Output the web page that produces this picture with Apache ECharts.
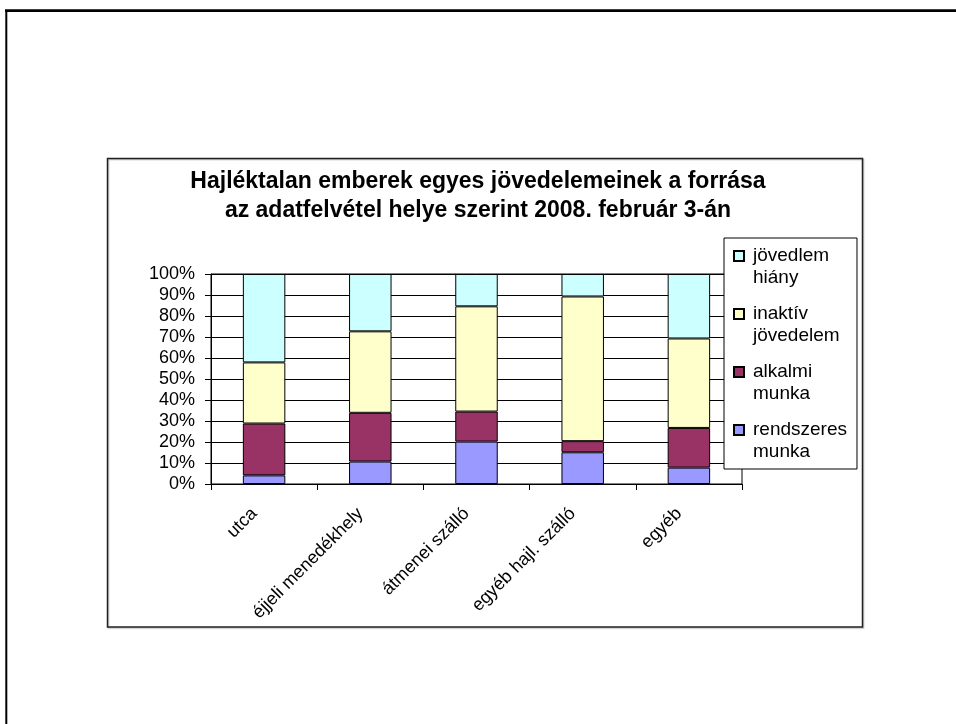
<!DOCTYPE html>
<html>
<head>
<meta charset="utf-8">
<script src="https://cdn.jsdelivr.net/npm/echarts@6/dist/echarts.min.js"></script>
<style>
html,body{margin:0;padding:0;background:#fff;}
#chart{width:956px;height:724px;}
</style>
</head>
<body>
<div id="chart"></div>
<script>
const categories = ['utca', 'éjjeli menedékhely', 'átmenei szálló', 'egyéb hajl. szálló', 'egyéb'];
const seriesNames = ['rendszeres munka', 'alkalmi munka', 'inaktív jövedelem', 'jövedlem hiány'];
const legendLabels = ['rendszeres\nmunka', 'alkalmi\nmunka', 'inaktív\njövedelem', 'jövedlem\nhiány'];
const rendszeres = [4.1, 10.7, 20.2, 15.1, 7.8];
const alkalmi = [24.7, 23.2, 14.3, 5.3, 18.9];
const inaktiv = [29.1, 38.8, 50.1, 68.9, 42.6];
const hiany = [42.1, 27.3, 15.4, 10.7, 30.7];
const yTicks = [0, 10, 20, 30, 40, 50, 60, 70, 80, 90, 100];

const colors = ['#9999FF', '#993366', '#FFFFCC', '#CCFFFF'];
const values = [rendszeres, alkalmi, inaktiv, hiany];
const FONT = '"Liberation Sans", Arial, sans-serif';

const chart = echarts.init(document.getElementById('chart'), null, {renderer: 'canvas'});
const option = {
  animation: false,
  backgroundColor: '#fff',
  textStyle: {fontFamily: FONT},
  title: {
    text: 'Hajléktalan emberek egyes jövedelemeinek a forrása\naz adatfelvétel helye szerint 2008. február 3-án',
    left: 'center',
    top: 162,
    padding: [5, 5, 5, 17],
    textStyle: {fontFamily: FONT, fontSize: 23, fontWeight: 'bold', color: '#000', lineHeight: 29}
  },
  legend: {
    orient: 'vertical',
    left: 724,
    top: 238,
    padding: [6, 10, 5, 9],
    itemGap: 12,
    itemWidth: 14,
    itemHeight: 44,
    icon: 'path://M0,6H10V16H0Z M0,0 M14,44',
    backgroundColor: '#fff',
    borderColor: '#000',
    borderWidth: 1,
    data: seriesNames.slice().reverse(),
    formatter: function (name) { return legendLabels[seriesNames.indexOf(name)]; },
    textStyle: {fontFamily: FONT, fontSize: 19, lineHeight: 22, color: '#000'}
  },
  grid: {
    left: 211, top: 274, right: 214, bottom: 240,
    show: true, borderColor: '#000', borderWidth: 1, backgroundColor: 'transparent'
  },
  xAxis: {
    type: 'category',
    data: categories,
    boundaryGap: true,
    axisLine: {lineStyle: {color: '#000', width: 1}},
    axisTick: {show: true, length: 6, interval: 0, lineStyle: {color: '#000'}},
    axisLabel: {rotate: 45, interval: 0, fontSize: 18, color: '#000', fontFamily: FONT, margin: 17, padding: [0, 14, 0, 0]}
  },
  yAxis: {
    type: 'value',
    min: 0, max: 100, interval: 10,
    axisLine: {show: true, lineStyle: {color: '#000', width: 1}},
    axisTick: {show: true, length: 6, lineStyle: {color: '#000'}},
    splitLine: {show: true, lineStyle: {color: '#000', width: 1}},
    axisLabel: {fontSize: 18, color: '#000', fontFamily: FONT, margin: 16,
      formatter: function (v) { return yTicks.indexOf(v) >= 0 ? v + '%' : ''; }}
  },
  series: seriesNames.map(function (n, i) {
    return {
      name: n,
      type: 'bar',
      stack: 'total',
      barWidth: '40%',
      data: values[i],
      itemStyle: {color: colors[i], borderColor: '#000', borderWidth: 1}
    };
  }),
  graphic: [
    {type: 'line', shape: {x1: 5, y1: 10.7, x2: 956, y2: 10.7}, style: {stroke: '#000', lineWidth: 2.7}, silent: true},
    {type: 'line', shape: {x1: 6.3, y1: 10, x2: 6.3, y2: 724}, style: {stroke: '#000', lineWidth: 2}, silent: true},
    {type: 'rect', shape: {x: 107.5, y: 158.5, width: 755, height: 468.5},
      style: {fill: 'none', stroke: '#222', lineWidth: 1.5, shadowColor: 'rgba(0,0,0,0.25)', shadowOffsetX: 1, shadowOffsetY: 1, shadowBlur: 1},
      silent: true, z: -1}
  ]
};
chart.setOption(option);
</script>
</body>
</html>
